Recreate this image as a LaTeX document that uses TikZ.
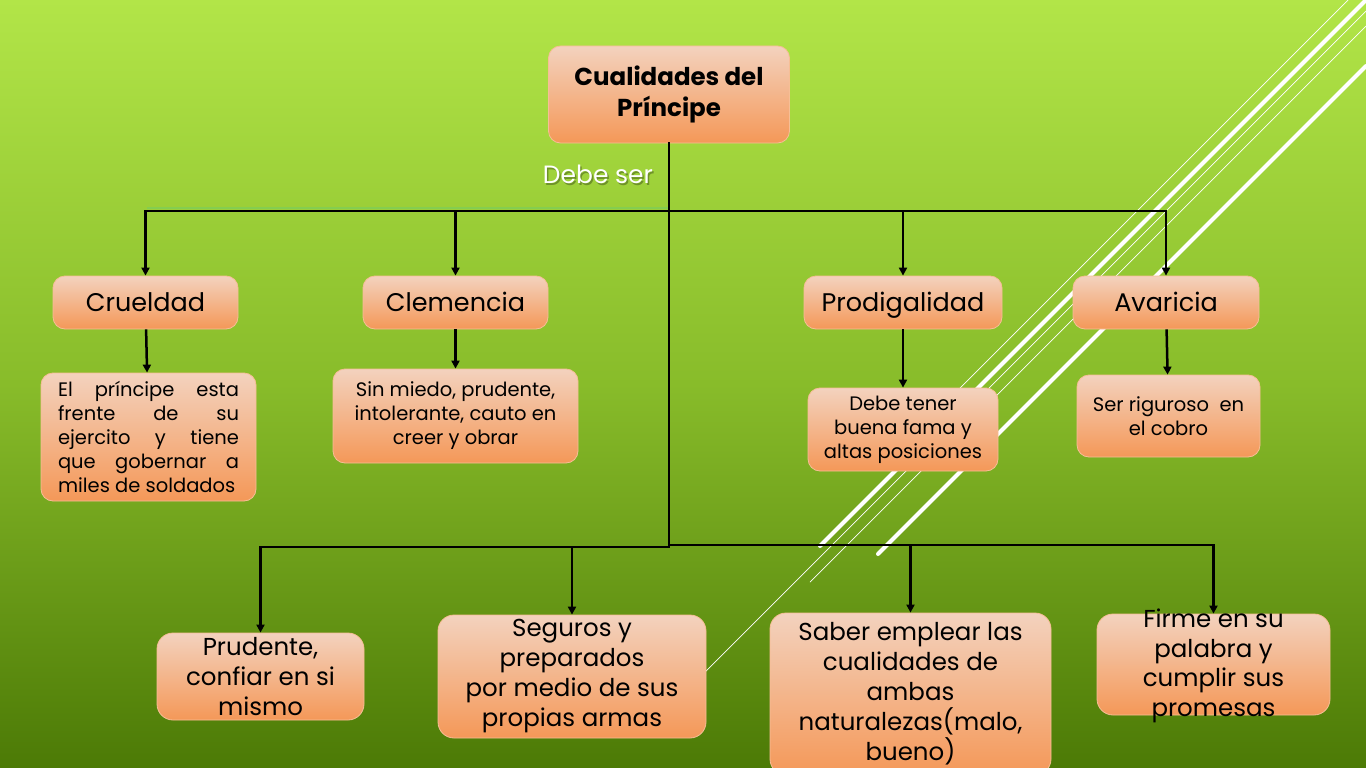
\documentclass[tikz,border=0pt]{standalone}
\usepackage{fontspec}
\setmainfont{Poppins}
\usetikzlibrary{arrows.meta}

\begin{document}
\begin{tikzpicture}[x=1pt, y=-1pt,
    caja/.style={rounded corners=12pt, draw=CajaBorde, line width=0.8pt,
        top color=CajaArriba, bottom color=CajaAbajo, inner sep=0pt, align=center},
    titulo/.style={caja, font=\fontsize{24.5}{31}\selectfont\bfseries},
    cualidad/.style={caja, minimum height=53pt, text height=17.5pt, text depth=0pt, font=\fontsize{25.5}{30}\selectfont},
    detalle/.style={caja, font=\fontsize{19.5}{24}\selectfont},
    grande/.style={caja, rounded corners=16pt, font=\fontsize{24.5}{30}\selectfont},
    linea/.style={line width=2.5pt, draw=black},
    flecha/.style={linea, -{Triangle[length=8pt, width=8pt]}},
    raya/.style={draw=white, line cap=round},
]

    % colores del fondo y de las cajas
    \definecolor{FondoArriba}{RGB}{178, 229, 72}
    \definecolor{FondoMedio}{RGB}{136, 188, 42}
    \definecolor{FondoAbajo}{RGB}{76, 122, 6}
    \definecolor{CajaArriba}{RGB}{243, 210, 190}
    \definecolor{CajaAbajo}{RGB}{244, 152, 88}
    \definecolor{CajaBorde}{RGB}{246, 190, 150}
    \definecolor{VerdeBrillo}{RGB}{132, 206, 80}

    % fondo
    \shade[top color=FondoArriba, bottom color=FondoAbajo, middle color=FondoMedio] (0,0) rectangle (1366,768);
    \useasboundingbox (0,0) rectangle (1366,768);

    % rayas blancas
    \draw[raya, line width=0.7pt] (1348,0) -- (890,458);
    \draw[raya, line width=4pt] (1366,0) -- (820,546);
    \draw[raya, line width=0.7pt] (1366,11) -- (700,677);
    \draw[raya, line width=0.7pt] (1366,26) -- (810,582);
    \draw[raya, line width=4pt] (1366,66) -- (878,554);

    % cajas
    \node[titulo, minimum width=241pt, minimum height=97pt] (princ) at (669,94.5) {Cualidades del\\Príncipe};

    \node[cualidad, minimum width=185pt] (cru) at (145.5,302.5) {Crueldad};
    \node[cualidad, minimum width=185pt] (cle) at (455.5,302.5) {Clemencia};
    \node[cualidad, minimum width=198pt] (pro) at (903,302.5) {Prodigalidad};
    \node[cualidad, minimum width=186pt] (ava) at (1166,302.5) {Avaricia};

    \node[detalle, align=justify, text width=181pt, inner xsep=17pt, minimum height=128pt] (crud) at (148.5,437)
        {El príncipe esta\linebreak frente de su\linebreak ejercito y tiene\linebreak que gobernar a\linebreak miles de soldados};
    \node[detalle, minimum width=245pt, minimum height=94pt] (cled) at (455.5,416) {Sin miedo, prudente,\\intolerante, cauto en\\creer y obrar};
    \node[detalle, minimum width=190pt, minimum height=83pt] (prod) at (903,429.5) {Debe tener\\buena fama y\\altas posiciones};
    \node[detalle, minimum width=183pt, minimum height=82pt] (avad) at (1168.5,416) {Ser riguroso\ \ en\\el cobro};

    \node[grande, minimum width=207pt, minimum height=87pt] (pru) at (260.5,676.5) {Prudente,\\confiar en si\\mismo};
    \node[grande, minimum width=268pt, minimum height=123pt] (seg) at (572,676.5) {Seguros y\\preparados\\por medio de sus\\propias armas};
    \node[grande, minimum width=281pt, minimum height=162pt] (sab) at (910.5,694) {Saber emplear las\\cualidades de\\ambas\\naturalezas(malo,\\bueno)};
    \node[grande, minimum width=233pt, minimum height=101pt] (fir) at (1213.5,664.5) {};
    \node[align=center, inner sep=0pt, font=\fontsize{24.5}{29.5}\selectfont] (firtexto) at (1213.5,666) {Firme en su\\palabra y\\cumplir sus\\promesas};

    % texto del tronco
    \node[font=\fontsize{25}{30}\selectfont, text=black, opacity=0.3] (debesombra) at (599.5,176) {Debe ser};
    \node[font=\fontsize{25}{30}\selectfont, text=white] (debe) at (598,174) {Debe ser};

    % conectores
    \coordinate (jt) at (669,211);
    \coordinate (jbi) at (669,547);
    \coordinate (jbd) at (669,545);
    \coordinate (brilloI) at (147,207.5);
    \coordinate (brilloD) at (669,207.5);

    \draw[line width=2pt, draw=VerdeBrillo] (brilloI) -- (brilloD);
    \draw[linea, line cap=rect] (princ) -- (jbi);
    \draw[flecha] (jt) -| (cru);
    \draw[flecha] (jt) -| (ava);
    \draw[flecha] (cle |- jt) -- (cle);
    \draw[flecha] (pro |- jt) -- (pro);

    \draw[flecha] (jbi) -| (pru);
    \draw[flecha] (jbd) -| (fir);
    \draw[flecha] (seg |- jbi) -- (seg);
    \draw[flecha] (sab |- jbd) -- (sab);

    \draw[flecha] (cru) -- (crud);
    \draw[flecha] (cle) -- (cled);
    \draw[flecha] (pro) -- (prod);
    \draw[flecha] (ava) -- (avad);

\end{tikzpicture}
\end{document}
